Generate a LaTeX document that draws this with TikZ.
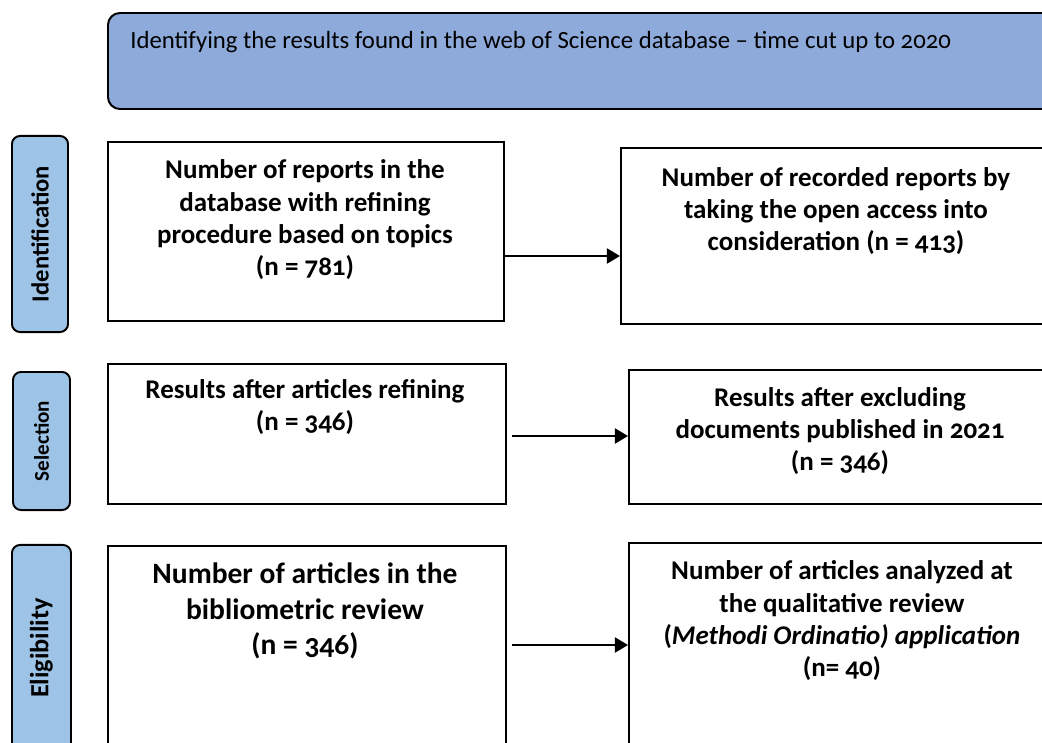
\documentclass[tikz,border=0pt]{standalone}
\usepackage{fontspec}
\setmainfont{Carlito}[Numbers=OldStyle]
\usetikzlibrary{arrows.meta,positioning}
\definecolor{headblue}{RGB}{142,170,219}
\definecolor{sideblue}{RGB}{157,195,230}

\begin{document}
\begin{tikzpicture}[x=0.025cm, y=-0.025cm,
    flowbox/.style={rectangle, draw, line width=1.4pt, anchor=north west, inner sep=0pt},
    stage/.style={rectangle, rounded corners=0.2cm, draw, line width=1.4pt, fill=sideblue, rotate=90, inner sep=0pt, font=\bfseries},
    boxtext/.style={align=center, inner sep=0pt, font=\fontsize{19.2}{23}\selectfont\bfseries},
    arr/.style={-{Triangle[length=0.33cm, width=0.38cm]}, line width=1.4pt}]
    \useasboundingbox (0,0) rectangle (1042,743);
    \clip (0,0) rectangle (1042,743);

    % header
    \node (head) [rectangle, rounded corners=0.3cm, draw, line width=1.4pt, fill=headblue, anchor=north west, minimum width=24.1cm, minimum height=2.4cm] at (107,12) {};
    \node (headtext) [anchor=west, inner sep=0pt, font=\fontsize{17.6}{20}\selectfont] at (130,42) {Identifying the results found in the web of Science database -- time cut up to 2020};

    % stages
    \node (ident) [stage, minimum width=4.9cm, minimum height=1.4cm, font=\fontsize{17.5}{19}\selectfont\bfseries] at (40,234) {Identification};
    \node (select) [stage, minimum width=3.45cm, minimum height=1.425cm, font=\fontsize{15}{17}\selectfont\bfseries] at (41.5,441) {Selection};
    \node (elig) [stage, minimum width=5.15cm, minimum height=1.475cm, font=\fontsize{18.7}{21}\selectfont\bfseries] at (41.5,648) {Eligibility};

    % boxes
    \node (box1) [flowbox, minimum width=9.9cm, minimum height=4.475cm] at (107,141) {};
    \node (box2) [flowbox, minimum width=11cm, minimum height=4.4cm] at (620,147) {};
    \node (box3) [flowbox, minimum width=9.95cm, minimum height=3.5cm] at (107,363) {};
    \node (box4) [flowbox, minimum width=10.8cm, minimum height=3.35cm] at (628,369) {};
    \node (box5) [flowbox, minimum width=9.95cm, minimum height=5.4cm] at (107,545) {};
    \node (box6) [flowbox, minimum width=10.8cm, minimum height=5.45cm] at (628,542) {};

    \node (text1) [boxtext] at (305,220) {Number of reports in the\\database with refining\\procedure based on topics\\(n = 781)};
    \node (text2) [boxtext] at (836,211) {Number of recorded reports by\\taking the open access into\\consideration (n = 413)};
    \node (text3) [boxtext] at (305,407) {Results after articles refining\\(n = 346)};
    \node (text4) [boxtext] at (840,431) {Results after excluding\\documents published in 2021\\(n = 346)};
    \node (text5) [boxtext, font=\fontsize{21}{25}\selectfont\bfseries] at (305,611) {Number of articles in the\\bibliometric review\\(n = 346)};
    \node (text6) [boxtext] at (842,621) {Number of articles analyzed at\\the qualitative review\\(\textit{Methodi Ordinatio) application}\\(n= 40)};

    % arrows
    \coordinate (a1) at (503,256);
    \coordinate (a2) at (512,436);
    \coordinate (a3) at (512,645);
    \draw[arr] (box1.east |- a1) -- (box2.west |- a1);
    \draw[arr] (a2) -- (box4.west |- a2);
    \draw[arr] (a3) -- (box6.west |- a3);
\end{tikzpicture}
\end{document}
